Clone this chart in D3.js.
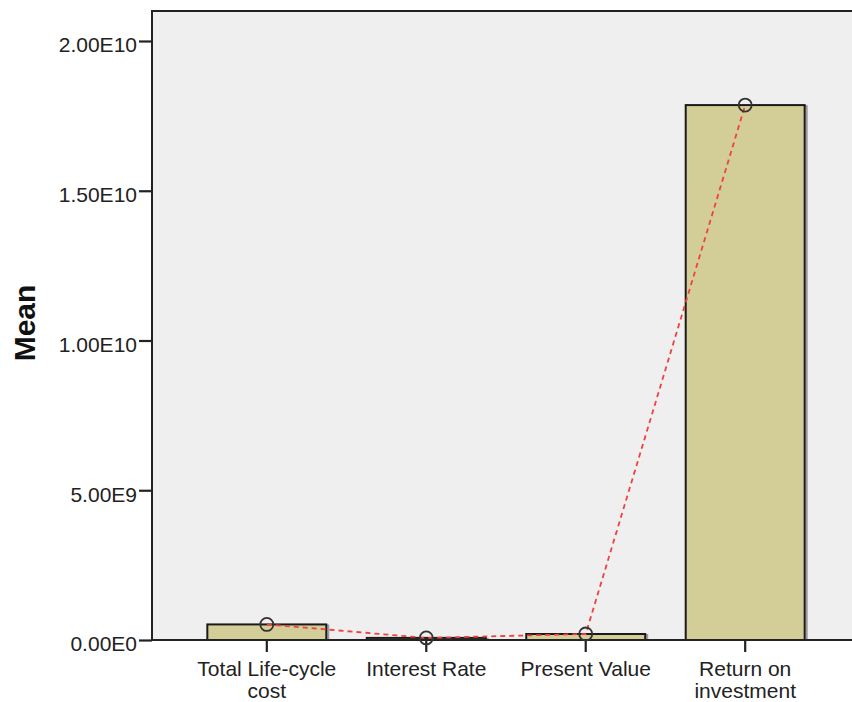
<!DOCTYPE html>
<html><head><meta charset="utf-8">
<script src="https://cdn.jsdelivr.net/npm/d3@7"></script>
<style>body{margin:0;background:#fff;} text{font-family:"Liberation Sans",Arial,sans-serif;}</style>
</head><body>
<svg id="chart" width="852" height="702"></svg>
<script>
const categories = ["Total Life-cycle cost", "Interest Rate", "Present Value", "Return on investment"];
const categoryLines = [["Total Life-cycle", "cost"], ["Interest Rate"], ["Present Value"], ["Return on", "investment"]];
const meanValues = [5.2e8, 7e7, 2.0e8, 1.786e10];
const tickValues = [0, 5e9, 1e10, 1.5e10, 2e10];
const tickLabels = ["0.00E0", "5.00E9", "1.00E10", "1.50E10", "2.00E10"];

const svg = d3.select("#chart");
const pL = 152, pR = 860, pT = 10, pB = 640;
const FONT = "Liberation Sans, Arial, sans-serif";

const x = d3.scaleBand().domain(categories).range([pL, pR]).paddingInner(0.254).paddingOuter(0.347);
const y = d3.scaleLinear().domain([0, 2e10]).range([pB, 41]);

svg.append("rect").attr("x", pL).attr("y", pT).attr("width", pR - pL).attr("height", pB - pT).attr("fill", "#efefef");
svg.append("line").attr("x1", pL).attr("x2", pR).attr("y1", pT + 1).attr("y2", pT + 1).attr("stroke", "#222").attr("stroke-width", 2);

// bar shadows
svg.selectAll("rect.shadow").data(categories).enter().append("rect")
  .attr("class", "shadow")
  .attr("x", d => x(d) + 2)
  .attr("y", (d, i) => y(meanValues[i]) + 1)
  .attr("width", x.bandwidth())
  .attr("height", (d, i) => pB - y(meanValues[i]) - 1)
  .attr("fill", "none").attr("stroke", "#9a9a9a").attr("stroke-width", 2);

// bars
svg.selectAll("rect.bar").data(categories).enter().append("rect")
  .attr("class", "bar")
  .attr("x", d => x(d))
  .attr("y", (d, i) => y(meanValues[i]))
  .attr("width", x.bandwidth())
  .attr("height", (d, i) => pB - y(meanValues[i]))
  .attr("fill", "#d3ce98").attr("stroke", "#1a1a1a").attr("stroke-width", 2);

// y axis
const yAxis = d3.axisLeft(y).tickValues(tickValues).tickFormat((d, i) => tickLabels[i]).tickSizeOuter(0).tickSize(13).tickPadding(2);
const gy = svg.append("g").attr("transform", `translate(${pL},0)`).call(yAxis);
gy.select(".domain").attr("d", `M0,${pT}V${pB}`).attr("stroke", "#222").attr("stroke-width", 2);
gy.selectAll(".tick line").attr("stroke", "#222").attr("stroke-width", 2.2);
gy.selectAll(".tick text").attr("font-size", 21).attr("fill", "#222").attr("font-family", FONT).attr("dy", "0.52em");

// x axis
const xAxis = d3.axisBottom(x).tickSize(12).tickSizeOuter(0).tickFormat("");
const gx = svg.append("g").attr("transform", `translate(0,${pB})`).call(xAxis);
gx.select(".domain").attr("d", `M${pL},0H${pR}`).attr("stroke", "#222").attr("stroke-width", 2);
gx.selectAll(".tick line").attr("stroke", "#222").attr("stroke-width", 2.2);
gx.selectAll(".tick").each(function(d, i) {
  const t = d3.select(this).append("text").attr("fill", "#222").attr("font-size", 21).attr("text-anchor", "middle").attr("font-family", FONT);
  categoryLines[i].forEach((ln, j) => t.append("tspan").attr("x", 0).attr("y", 36 + j * 22).text(ln));
});

// line through means
const line = d3.line().x((d, i) => x(categories[i]) + x.bandwidth() / 2).y(d => y(d));
svg.append("path").datum(meanValues).attr("d", line).attr("fill", "none").attr("stroke", "#f04040").attr("stroke-width", 1.8).attr("stroke-dasharray", "5,4");

svg.selectAll("circle.pt").data(meanValues).enter().append("circle")
  .attr("cx", (d, i) => x(categories[i]) + x.bandwidth() / 2)
  .attr("cy", d => y(d)).attr("r", 6.5)
  .attr("fill", "none").attr("stroke", "#333").attr("stroke-width", 1.8);

// y title
svg.append("text").attr("transform", `translate(35,323) rotate(-90)`)
  .attr("text-anchor", "middle").attr("font-size", 30).attr("font-weight", "bold").attr("fill", "#111").attr("font-family", FONT).text("Mean");
</script>
</body></html>
